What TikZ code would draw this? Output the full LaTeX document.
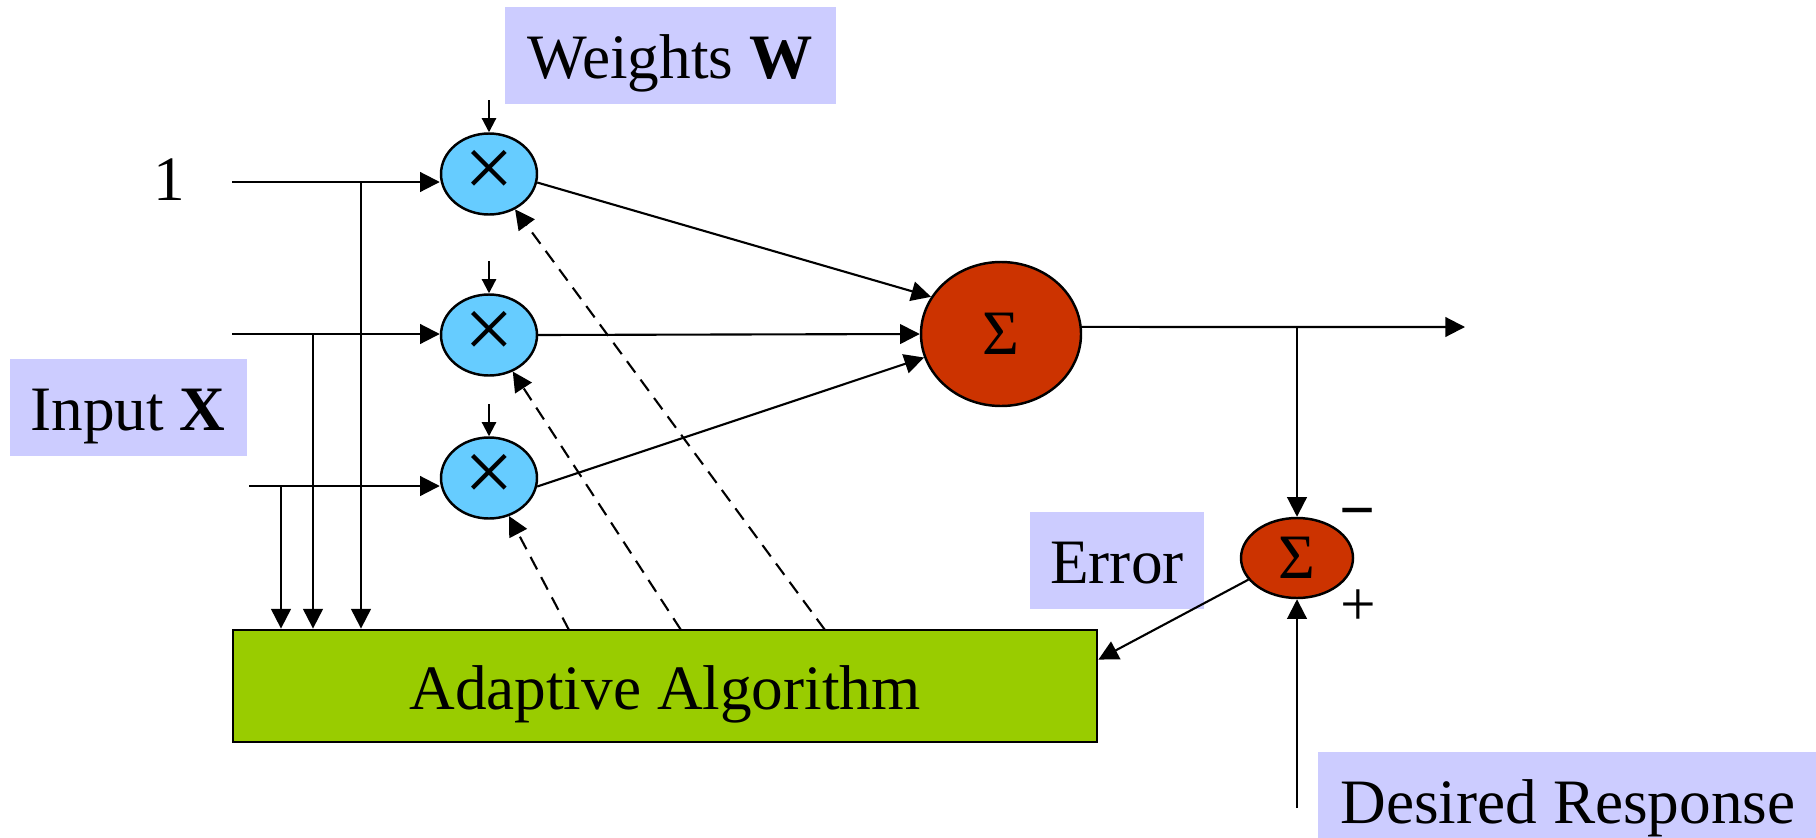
\documentclass[tikz,border=0pt]{standalone}
\usepackage{fontspec}
\setmainfont{Liberation Serif}
\usetikzlibrary{arrows.meta, shapes.geometric, calc}
\definecolor{labelBlue}{HTML}{CCCCFF}
\definecolor{multBlue}{HTML}{66CCFF}
\definecolor{sumRed}{HTML}{CC3300}
\definecolor{algoGreen}{HTML}{99CC00}
\tikzstyle{aLabel} = [rectangle, fill=labelBlue, minimum height=0.97cm, inner sep=0pt, text height=15.3pt, text depth=2.2pt, text centered]
\tikzstyle{aMult} = [ellipse, draw=black, line width=0.7pt, fill=multBlue, minimum width=0.96cm, minimum height=0.81cm, inner sep=0pt, font=\fontsize{25}{25}\selectfont]
\tikzstyle{aSum} = [ellipse, draw=black, line width=0.7pt, fill=sumRed, inner sep=0pt]
\tikzstyle{aAlgo} = [rectangle, draw=black, line width=0.8pt, fill=algoGreen, minimum width=8.64cm, minimum height=1.12cm, text height=15.3pt, text depth=2.2pt]
\tikzstyle{aArrow} = [line width=0.6pt, -{Triangle[length=5.6pt,width=5.6pt]}]
\tikzstyle{aSmallArrow} = [line width=0.6pt, -{Triangle[length=4pt,width=4pt]}]
\tikzstyle{aDashArrow} = [aArrow, dash pattern=on 4pt off 2.5pt]

\begin{document}
\begin{tikzpicture}[font=\fontsize{18}{21}\selectfont]
    \useasboundingbox (0,0) rectangle (18.16,-8.37);
    \node (one) at (1.69,-1.80) {1};
    \node (inputX) [aLabel, minimum width=2.37cm] at (1.28,-4.07) {Input \textbf{X}};
    \node (weights) [aLabel, minimum width=3.31cm] at (6.70,-0.55) {Weights \textbf{W}};
    \node (m1) [aMult] at (4.89,-1.74) {×};
    \node (m2) [aMult] at (4.89,-3.35) {×};
    \node (m3) [aMult] at (4.89,-4.78) {×};
    \node (sig) [aSum, minimum width=1.60cm, minimum height=1.44cm] at (10.01,-3.34) {Σ};
    \node (sm) [aSum, minimum width=1.12cm, minimum height=0.80cm] at (12.97,-5.58) {Σ};
    \node (minus) at (13.58,-5.20) {\textbf{−}};
    \node (plus) at (13.58,-6.08) {+};
    \node (error) [aLabel, minimum width=1.74cm] at (11.17,-5.60) {Error};
    \node (algo) [aAlgo] at (6.65,-6.86) {Adaptive Algorithm};
    \node (desired) [aLabel, minimum width=5.00cm] at (15.68,-8.00) {Desired Response};

    \coordinate (in1) at (2.32,-1.82);
    \coordinate (in2) at (2.32,-3.34);
    \coordinate (in3) at (2.49,-4.86);
    \coordinate (tap1) at (3.61,-1.82);
    \coordinate (tap2) at (3.13,-3.34);
    \coordinate (tap3) at (2.81,-4.86);
    \coordinate (upd1) at (8.25,-6.30);
    \coordinate (upd2) at (6.81,-6.30);
    \coordinate (upd3) at (5.69,-6.30);
    \coordinate (out) at (14.65,-3.27);
    \coordinate (dsrc) at (12.97,-8.08);

    \draw [aArrow] (in1) -- (in1 -| m1.west);
    \draw [aArrow] (in2) -- (in2 -| m2.west);
    \draw [aArrow] (in3) -- (in3 -| m3.west);
    \draw [aArrow] (tap1) -- (tap1 |- algo.north);
    \draw [aArrow] (tap2) -- (tap2 |- algo.north);
    \draw [aArrow] (tap3) -- (tap3 |- algo.north);
    \draw [aSmallArrow] ($(m1.north)+(0,0.32)$) -- (m1.north);
    \draw [aSmallArrow] ($(m2.north)+(0,0.32)$) -- (m2.north);
    \draw [aSmallArrow] ($(m3.north)+(0,0.32)$) -- (m3.north);
    \draw [aArrow] (m1.-10) -- (sig.152);
    \draw [aArrow] (m2.east) -- (sig.west);
    \draw [aArrow] (m3.-10) -- (sig.197);
    \draw [aArrow] (sig.5) -- (out);
    \draw [aArrow] (sig.5 -| sm) -- (sm);
    \draw [aArrow] (dsrc) -- (sm);
    \draw [aArrow] (sm.204) -- ($(algo.north east)+(0,-0.31)$);
    \draw [aDashArrow] (upd1) -- (m1);
    \draw [aDashArrow] (upd2) -- (m2);
    \draw [aDashArrow] (upd3) -- (m3);
\end{tikzpicture}
\end{document}
